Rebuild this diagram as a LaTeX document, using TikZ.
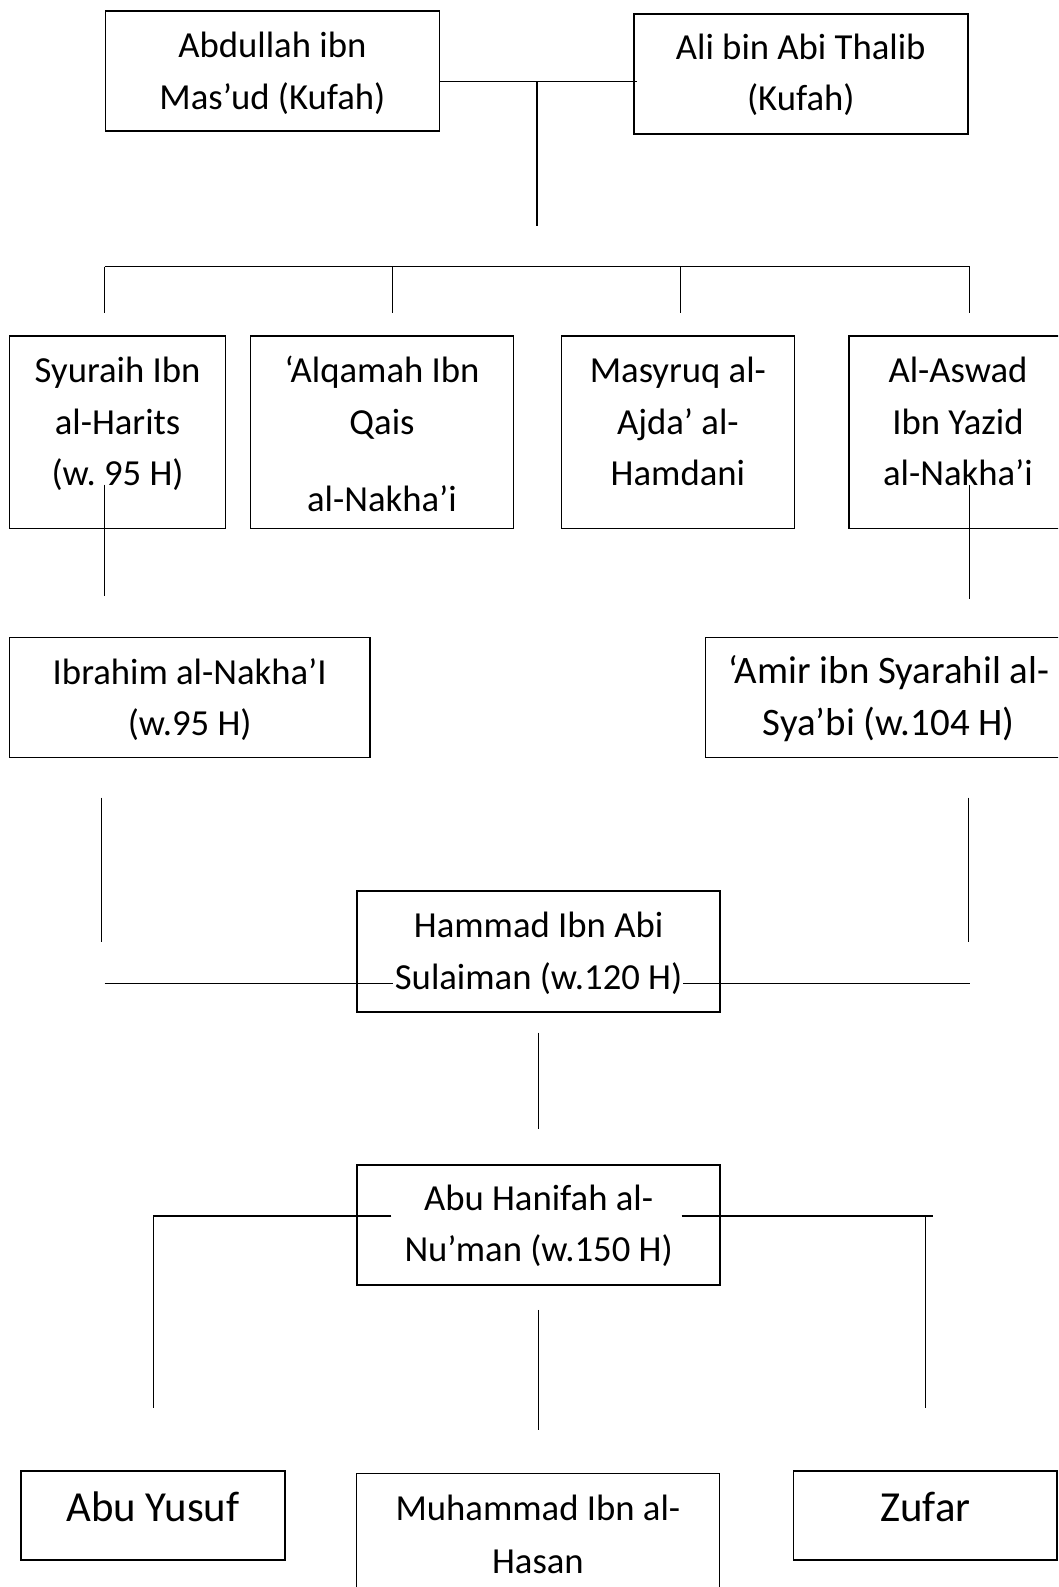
\documentclass[tikz,border=0pt]{standalone}
\usepackage{fontspec}
\setmainfont{Carlito}
\frenchspacing
\usetikzlibrary{positioning}
\newcommand\rapat{\spaceskip=0.226em\relax\xspaceskip=0.226em\relax}
\tikzset{kotak/.style={draw,line width=1.6pt,anchor=north west,inner sep=0pt,align=center,
    font=\fontsize{36.7}{51.6}\selectfont,execute at begin node=\rapat,text height=46.7pt,text depth=146pt},
  besar/.style={font=\fontsize{42.8}{55}\selectfont,text height=50.7pt,text depth=38.6pt},
  garis/.style={line width=1.3pt}}

\begin{document}
\begin{tikzpicture}[x=1pt,y=-1pt]
\useasboundingbox (0,0) rectangle (1058,1587);
\clip (0,0) rectangle (1058,1587);
\node[kotak,text width=334pt,text depth=73.3pt] (abdullah) at (104.6,10) {Abdullah ibn\\Mas’ud (Kufah)};
\node[kotak,text width=334pt,text height=45pt,text depth=75pt] (ali) at (633,13.3) {Ali bin Abi Thalib\\(Kufah)};
\node[kotak,text width=216pt] (syuraih) at (8.8,335) {Syuraih Ibn\\al-Harits\\(w. 95 H)};
\node[kotak,text width=263pt] (alqamah) at (249.7,335) {‘Alqamah Ibn\\Qais\\[26pt]al-Nakha’i};
\node[kotak,text width=232.8pt] (masyruq) at (560.7,335) {Masyruq al-\\Ajda’ al-\\Hamdani};
\node[kotak,text width=218pt] (aswad) at (848.2,335) {Al-Aswad\\Ibn Yazid\\al-Nakha’i};
\node[kotak,text width=360.2pt,text depth=73.3pt] (ibrahim) at (8.8,636.7) {Ibrahim al-Nakha’I\\(w.95 H)};
\node[kotak,text width=367pt,text height=46pt,text depth=74pt,font=\fontsize{38.9}{51.6}\selectfont] (amir) at (704.5,636.7) {‘Amir ibn Syarahil al-\\Sya’bi (w.104 H)};
\node[kotak,text width=363pt,text depth=74.3pt] (hammad) at (356.3,890) {Hammad Ibn Abi\\Sulaiman (w.120 H)};
\node[kotak,text width=363pt,text height=45.3pt,text depth=74.7pt] (hanifah) at (356.3,1164) {Abu Hanifah al-\\Nu’man (w.150 H)};
\node[kotak,besar,text width=264pt] (yusuf) at (20.2,1470) {Abu Yusuf};
\node[kotak,text width=363pt,text height=47pt,text depth=78pt,font=\fontsize{36.7}{52.6}\selectfont] (muhammad) at (355.6,1472.7) {Muhammad Ibn al-\\Hasan};
\node[kotak,besar,text width=263.5pt] (zufar) at (792.8,1470) {Zufar};

\coordinate (puncak) at (537,81.3);
\draw[garis] (abdullah.east |- puncak) -- (637,81.3);
\draw[garis] (puncak) -- (537,226);
\foreach \nama/\x in {c1/104.6,c2/392.7,c3/680.8,c4/969.6}
  \coordinate (\nama) at (\x,266.7);
\draw[garis] (c1) -- (c4);
\foreach \nama in {c1,c2,c3,c4}
  \draw[garis] (\nama) -- ++(0,46.3);
\draw[garis] (syuraih.south -| c1) ++(0,-44.7) -- ++(0,111);
\draw[garis] (aswad.south -| c4) ++(0,-44.7) -- ++(0,114);
\draw[garis] (101.2,797.7) -- (101.2,942.3);
\draw[garis] (968.3,797.7) -- (968.3,942.3);
\draw[garis] (104.6,983.3) -- (393,983.3);
\draw[garis] (683,983.3) -- (969.6,983.3);
\draw[garis] (hammad.south) ++(0,20) -- ++(0,96.3);
\draw[garis] (391.4,1216) -| (153.8,1408.3);
\draw[garis] (681.5,1216) -- (933.2,1216);
\draw[garis] (925.8,1216) -- (925.8,1408.3);
\draw[garis] (hanifah.south) ++(0,24.3) -- ++(0,120);
\end{tikzpicture}
\end{document}
